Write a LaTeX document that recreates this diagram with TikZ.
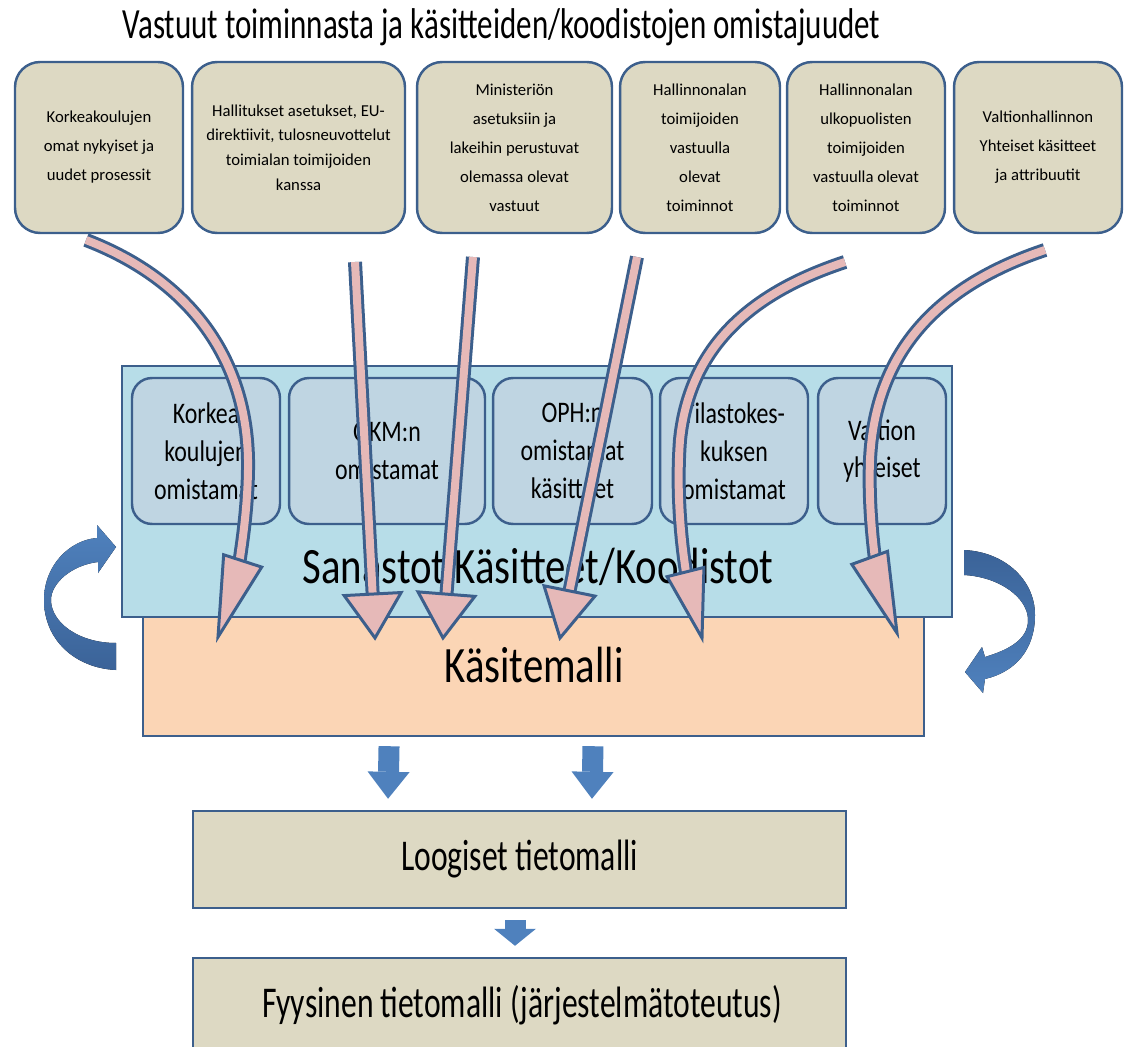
\documentclass[tikz,border=0pt]{standalone}
\usepackage{fontspec}
\setmainfont{Carlito}
\newfontfamily\narrowfont[FakeStretch=0.72]{Carlito}
\newfontfamily\blockfont[FakeStretch=0.8]{Carlito}
\usetikzlibrary{arrows.meta, decorations.markings}

\definecolor{bord}{RGB}{60,95,140}
\definecolor{tanfill}{RGB}{221,217,195}
\definecolor{lightblue}{RGB}{183,221,232}
\definecolor{innerblue}{RGB}{191,213,226}
\definecolor{peach}{RGB}{251,213,181}
\definecolor{pinkfill}{RGB}{230,185,184}
\definecolor{arrowblue}{RGB}{79,129,189}
\definecolor{arrowdark}{RGB}{59,99,152}

\begin{document}
\begin{tikzpicture}[x=0.02cm, y=-0.02cm,
        resp/.style={draw=bord, line width=1.4pt, fill=tanfill, rounded corners=0.5cm, minimum height=3.42cm, align=center, font=\fontsize{9.5}{16.5}\selectfont},
        owner/.style={draw=bord, line width=1.4pt, fill=innerblue, rounded corners=0.4cm, minimum height=2.92cm, align=center, font=\blockfont\fontsize{17}{21.5}\selectfont},
        layer/.style={draw=bord, line width=1.4pt, inner sep=0pt},
        bigtext/.style={anchor=base, inner sep=0pt, font=\blockfont\fontsize{29}{29}\selectfont},
        modeltext/.style={anchor=base, inner sep=0pt, font=\narrowfont\fontsize{25}{25}\selectfont},
        blockarrow/.style={arrowblue, line width=0.42cm, -{Triangle[length=#1, width=0.84cm, line width=0pt]}},
        blockarrow/.default=0.54cm,
        flow/.style 2 args={draw=pinkfill, line width=0.16cm, shorten >=#1,
            preaction={draw=bord, line width=0.28cm, shorten >=#1},
            postaction={decorate, decoration={markings, mark=at position 1 with
                {\draw[draw=bord, fill=pinkfill, line width=0.06cm, shorten >=0pt, line join=miter] (0,0) -- (-#1,#2) -- (-#1,-#2) -- cycle;}}}}
    ]
    \useasboundingbox (0,0) rectangle (1126,1047);

    \node[anchor=base, inner sep=0pt, font=\narrowfont\fontsize{24.5}{24.5}\selectfont] (title) at (501.5,39)
        {Vastuut toiminnasta ja käsitteiden/koodistojen omistajuudet};

    % responsibilities
    \node[resp, minimum width=3.36cm] (t1) at (99,147.5) {Korkeakoulujen\\omat nykyiset ja\\uudet prosessit};
    \node[resp, minimum width=4.26cm, font=\fontsize{9.5}{14}\selectfont] (t2) at (298.5,147.5)
        {Hallitukset asetukset, EU-\\direktiivit, tulosneuvottelut\\toimialan toimijoiden\\kanssa};
    \node[resp, minimum width=3.9cm] (t3) at (514.5,147.5) {Ministeriön\\asetuksiin ja\\lakeihin perustuvat\\olemassa olevat\\vastuut};
    \node[resp, minimum width=3.2cm] (t4) at (700,147.5) {Hallinnonalan\\toimijoiden\\vastuulla\\olevat\\toiminnot};
    \node[resp, minimum width=3.16cm] (t5) at (866,147.5) {Hallinnonalan\\ulkopuolisten\\toimijoiden\\vastuulla olevat\\toiminnot};
    \node[resp, minimum width=3.36cm] (t6) at (1038,147.5) {Valtionhallinnon\\Yhteiset käsitteet\\ja attribuutit};

    % layers
    \node[layer, fill=peach, minimum width=15.62cm, minimum height=2.72cm] (kasite) at (533.5,668) {};
    \node[layer, fill=lightblue, minimum width=16.6cm, minimum height=5.02cm] (sanastot) at (537,491.5) {};
    \node[owner, minimum width=2.96cm] (m1) at (206,451) {Korkea\\koulujen\\omistamat};
    \node[owner, minimum width=3.92cm] (m2) at (387,451) {OKM:n\\omistamat};
    \node[owner, minimum width=3.18cm] (m3) at (572.5,451) {OPH:n\\omistamat\\käsitteet};
    \node[owner, minimum width=2.96cm] (m4) at (734,451) {Tilastokes-\\kuksen\\omistamat};
    \node[owner, minimum width=2.56cm] (m5) at (882,451) {Valtion\\yhteiset};
    \node[bigtext] (sanastot-text) at (538,583) {Sanastot Käsitteet/Koodistot};
    \node[bigtext] (kasite-text) at (534,682) {Käsitemalli};

    \node[layer, fill=tanfill, minimum width=13.06cm, minimum height=1.94cm] (loog) at (519.5,859.5) {};
    \node[modeltext] (loog-text) at (519.5,870) {Loogiset tietomalli};
    \node[layer, fill=tanfill, minimum width=13.06cm, minimum height=2.1cm] (fys) at (519.5,1010.5) {};
    \node[modeltext] (fys-text) at (522,1017) {Fyysinen tietomalli (järjestelmätoteutus)};

    \draw[blockarrow] ([xshift=-2.89cm, yshift=-0.18cm]kasite.south) -- ([xshift=-2.63cm, yshift=0.22cm]loog.north);
    \draw[blockarrow] ([xshift=1.19cm, yshift=-0.18cm]kasite.south) -- ([xshift=1.45cm, yshift=0.22cm]loog.north);
    \draw[blockarrow=0.34cm] ([xshift=-0.09cm, yshift=-0.22cm]loog.south) -- ([xshift=-0.09cm, yshift=0.22cm]fys.north);

    % side cycles
    \fill[top color=arrowblue, bottom color=arrowdark] (116,670) .. controls (75,668) and (44,640) .. (44,600)
        .. controls (44,565) and (70,540) .. (97,538) -- (97,525) -- (116,547) -- (98,573) -- (98,562)
        .. controls (72,565) and (51,583) .. (51,600) .. controls (51,622) and (78,643) .. (116,643) -- cycle;
    \fill[top color=arrowdark, bottom color=arrowblue] (964,550) .. controls (1005,552) and (1035,580) .. (1035,615)
        .. controls (1035,650) and (1015,672) .. (985,679) -- (983,693) -- (965,672) -- (982,647) -- (985,657)
        .. controls (1008,650) and (1028,640) .. (1028,620) .. controls (1028,598) and (1000,577) .. (964,575) -- cycle;

    \coordinate (s1) at (86,240);   \coordinate (e1) at (218,637);
    \coordinate (s2) at (355,262);  \coordinate (e2) at (375,638);
    \coordinate (s3) at (473,257);  \coordinate (e3) at (443,638);
    \coordinate (s4) at (637,257);  \coordinate (e4) at (560,638);
    \coordinate (s5) at (845,262);  \coordinate (e5) at (702,638);
    \coordinate (s6) at (1045,250); \coordinate (e6) at (897,633);

    \draw[flow={1.6cm}{0.4cm}] (s1) .. controls (190,280) and (250,360) .. (248,470) .. controls (247,540) and (230,600) .. (e1);
    \draw[flow={0.88cm}{0.57cm}] (s2) -- (e2);
    \draw[flow={0.88cm}{0.57cm}] (s3) -- (e3);
    \draw[flow={0.96cm}{0.52cm}] (s4) -- (e4);
    \draw[flow={1.36cm}{0.38cm}] (s5) .. controls (760,290) and (690,340) .. (680,440) .. controls (674,520) and (690,590) .. (e5);
    \draw[flow={1.6cm}{0.38cm}] (s6) .. controls (940,285) and (875,350) .. (870,460) .. controls (867,540) and (885,600) .. (e6);
\end{tikzpicture}
\end{document}
